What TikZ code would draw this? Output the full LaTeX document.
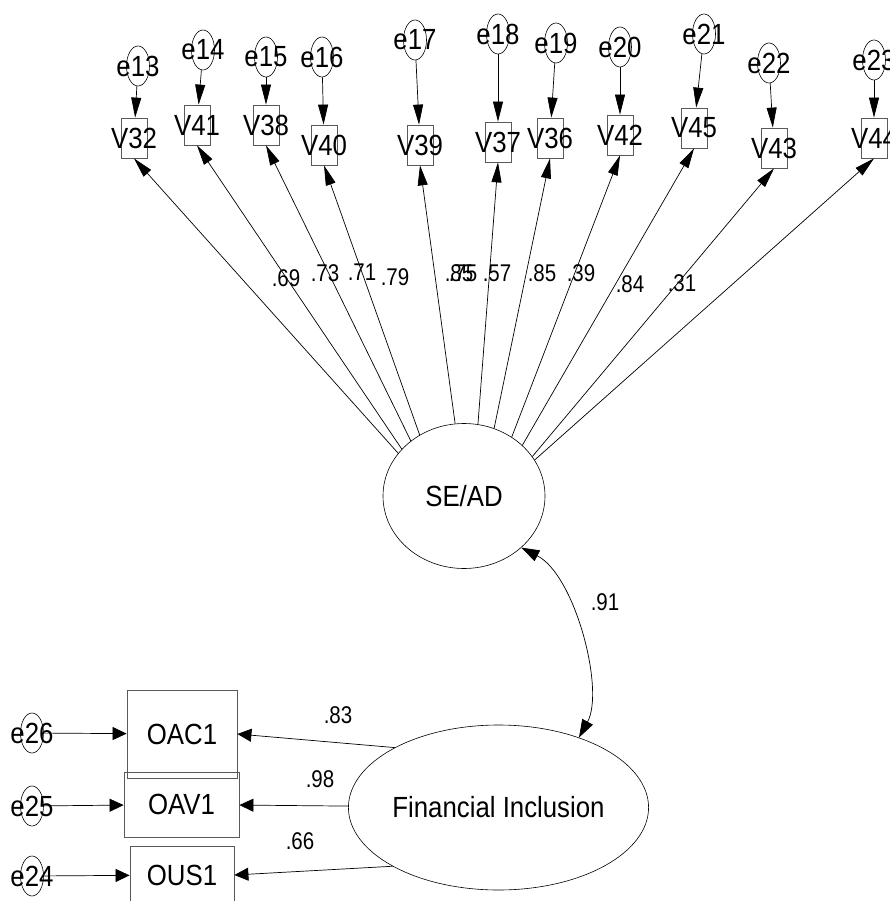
\documentclass[tikz,border=0pt]{standalone}
\usepackage{fontspec}
\setmainfont{Liberation Sans}
\usepackage{graphicx}
\usetikzlibrary{arrows.meta,shapes.geometric}
\newcommand{\bigtxt}[1]{\scalebox{1}[1.13]{\fontsize{25.8}{29}\selectfont #1}}
\newcommand{\smtxt}[1]{\scalebox{1}[1.18]{\fontsize{20.5}{23}\selectfont #1}}
\begin{document}
\begin{tikzpicture}[x=1pt,y=-1pt,
  line width=0.7pt,
  errc/.style={ellipse, draw, line width=0.6pt, minimum width=23pt, minimum height=40pt, inner sep=0pt,
     label={[inner sep=0pt]center:\bigtxt{#1}}},
  obs/.style={rectangle, draw=black!65, line width=0.8pt, minimum width=26pt, minimum height=40pt, inner sep=0pt,
     label={[inner sep=0pt]center:\bigtxt{#1}}},
  bigobs/.style={rectangle, draw=black!65, line width=0.8pt, inner sep=0pt},
  latent/.style={ellipse, draw, line width=0.6pt, inner sep=0pt},
  lab/.style={inner sep=0pt},
  vtip/.style={-{Triangle[length=20pt,width=10pt]}},
  htip/.style={-{Triangle[length=14pt,width=13pt]}},
  ctip/.style={{Triangle[length=18pt,width=12pt]}-{Triangle[length=18pt,width=12pt]}}
]
\useasboundingbox (0,0) rectangle (889,901);
\clip (0,0) rectangle (889,901);

% latent variables
\node[latent, minimum width=162pt, minimum height=145pt] (se) at (464,496) {\bigtxt{SE/AD}};
\node[latent, minimum width=253pt, minimum height=165pt] (fi) at (498.5,807.5) {\bigtxt{Financial Inclusion}};

% observed indicators (top)
\node[obs=V32] (v32) at (134,138) {};
\node[obs=V41] (v41) at (197,125) {};
\node[obs=V38] (v38) at (266,125) {};
\node[obs=V40] (v40) at (324,145) {};
\node[obs=V39] (v39) at (420,145) {};
\node[obs=V37] (v37) at (498,142) {};
\node[obs=V36] (v36) at (550,138) {};
\node[obs=V42] (v42) at (620,135) {};
\node[obs=V45] (v45) at (694,128) {};
\node[obs=V43] (v43) at (774,148) {};
\node[obs=V44] (v44) at (874,138) {};

% error terms (top)
\node[errc=e13] (e13) at (138,66) {};
\node[errc=e14] (e14) at (203,50) {};
\node[errc=e15] (e15) at (266,57) {};
\node[errc=e16] (e16) at (322,57) {};
\node[errc=e17] (e17) at (415,40) {};
\node[errc=e18] (e18) at (498,34) {};
\node[errc=e19] (e19) at (556,43) {};
\node[errc=e20] (e20) at (620,47) {};
\node[errc=e21] (e21) at (704,34) {};
\node[errc=e22] (e22) at (769,63) {};
\node[errc=e23] (e23) at (874,60) {};

% observed indicators (bottom)
\node[bigobs, minimum width=110pt, minimum height=88pt] (oac1) at (182,734) {\bigtxt{OAC1}};
\node[bigobs, minimum width=115pt, minimum height=65pt] (oav1) at (181.5,804.5) {\bigtxt{OAV1}};
\node[bigobs, minimum width=104pt, minimum height=58pt] (ous1) at (182,875) {\bigtxt{OUS1}};

% error terms (bottom)
\node[errc=e26] (e26) at (32,733) {};
\node[errc=e25] (e25) at (32,806) {};
\node[errc=e24] (e24) at (32,876) {};

% error arrows
\foreach \e/\v in {e13/v32,e14/v41,e15/v38,e16/v40,e17/v39,e18/v37,e19/v36,e20/v42,e21/v45,e22/v43,e23/v44}
  \draw[vtip] (\e) -- (\v);
\draw[htip] (e26) -- (oac1);
\draw[htip] (e25) -- (oav1);
\draw[htip] (e24) -- (ous1);

% loadings SE/AD
\draw[vtip] (se.147) -- (v32.south);
\draw[vtip] (se.143) -- (v41.south);
\draw[vtip] (se.134) -- (v38.south);
\draw[vtip] (se.126) -- (v40.south);
\draw[vtip] (se.97) -- (v39.south);
\draw[vtip] (se.79) -- (v37.south);
\draw[vtip] (se.66) -- (v36.south);
\draw[vtip] (se.51) -- (v42.south);
\draw[vtip] (se.41.5) -- (v45.south);
\draw[vtip] (se.30) -- (v43.south);
\draw[vtip] (se.27) -- (v44.south);

% loadings FI
\draw[htip] (fi.150) -- (oac1.east);
\draw[htip] (fi) -- (oav1);
\draw[htip] (fi.209) -- (ous1.east);

% covariance
\draw[ctip] (se.-42) .. controls (575,575) and (605,690) .. (fi.41);

% coefficient labels
\node[lab] (l69) at (286,278) {\smtxt{.69}};
\node[lab] (l73) at (325,273) {\smtxt{.73}};
\node[lab] (l71) at (362,272) {\smtxt{.71}};
\node[lab] (l79) at (395,277) {\smtxt{.79}};
\node[lab] (l85a) at (459,273) {\smtxt{.85}};
\node[lab] (l75) at (463,273) {\smtxt{.75}};
\node[lab] (l57) at (497,273) {\smtxt{.57}};
\node[lab] (l85b) at (542,273) {\smtxt{.85}};
\node[lab] (l39) at (581,273) {\smtxt{.39}};
\node[lab] (l84) at (630,284) {\smtxt{.84}};
\node[lab] (l31) at (682,283) {\smtxt{.31}};
\node[lab] (l91) at (605,602) {\smtxt{.91}};
\node[lab] (l83) at (338,715) {\smtxt{.83}};
\node[lab] (l98) at (320,779) {\smtxt{.98}};
\node[lab] (l66) at (300,841) {\smtxt{.66}};
\end{tikzpicture}
\end{document}
